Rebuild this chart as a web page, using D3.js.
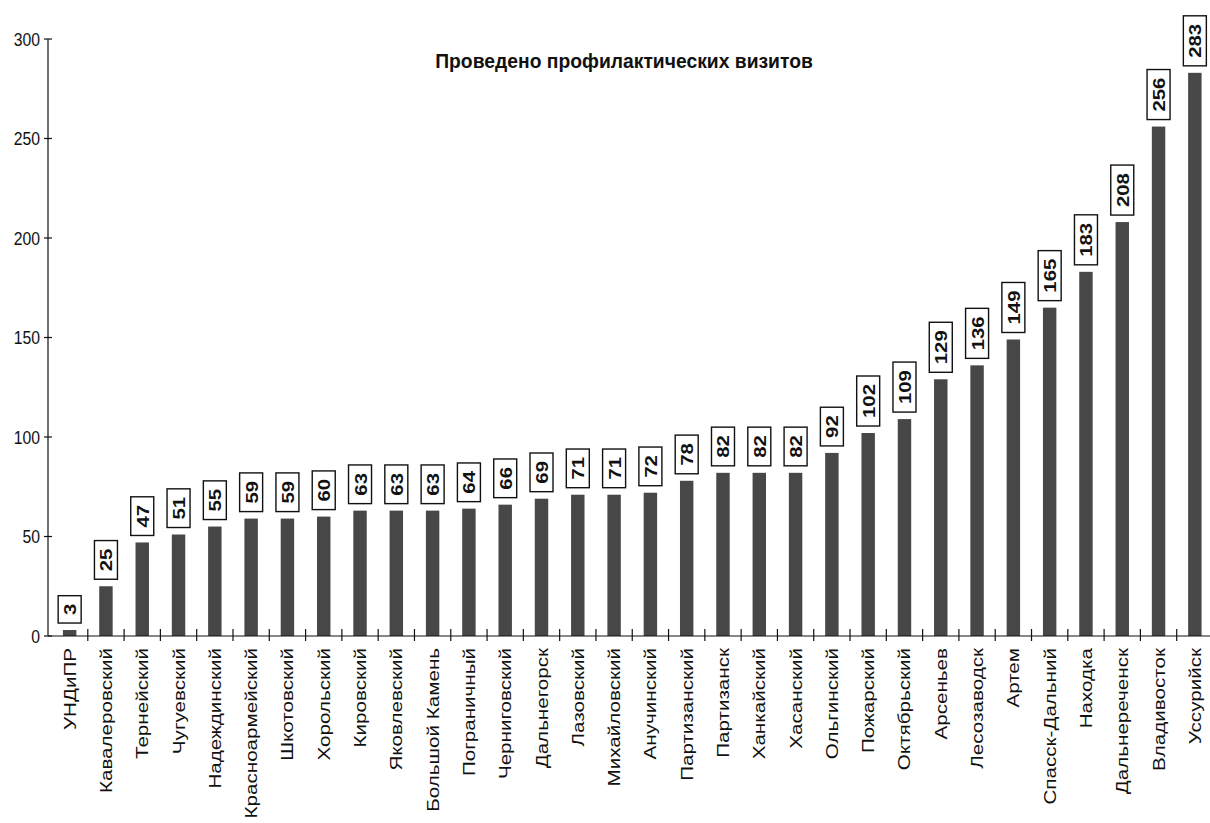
<!DOCTYPE html>
<html><head><meta charset="utf-8">
<script src="https://cdn.jsdelivr.net/npm/d3@7"></script>
<style>
html,body{margin:0;padding:0;background:#fff;}
svg{display:block;}
text{font-family:"Liberation Sans",Arial,sans-serif;fill:#111;}
</style></head>
<body>
<svg id="chart" width="1210" height="823"></svg>
<script>
const categories = ["УНДиПР","Кавалеровский","Тернейский","Чугуевский","Надеждинский","Красноармейский","Шкотовский","Хорольский","Кировский","Яковлевский","Большой Камень","Пограничный","Черниговский","Дальнегорск","Лазовский","Михайловский","Анучинский","Партизанский","Партизанск","Ханкайский","Хасанский","Ольгинский","Пожарский","Октябрьский","Арсеньев","Лесозаводск","Артем","Спасск-Дальний","Находка","Дальнереченск","Владивосток","Уссурийск"];
const values = [3,25,47,51,55,59,59,60,63,63,63,64,66,69,71,71,72,78,82,82,82,92,102,109,129,136,149,165,183,208,256,283];
const yTicks = [0,50,100,150,200,250,300];
const title = "Проведено профилактических визитов";

const svg = d3.select("#chart");
const axisX = 48, x0 = 51.5, x1 = 1213, yBase = 636, yTop = 39;

const x = d3.scaleBand().domain(categories).range([x0, x1]).padding(0);
const y = d3.scaleLinear().domain([0, 300]).range([yBase, yTop]);
const bw = x.bandwidth() * 0.37;

// bars
svg.append("g").selectAll("rect").data(values).join("rect")
  .attr("x", (d,i) => x(categories[i]) + x.bandwidth()/2 - bw/2)
  .attr("y", d => y(d))
  .attr("width", bw)
  .attr("height", d => y(0) - y(d))
  .attr("fill", "#474747");

// y axis
const ya = svg.append("g");
ya.append("line").attr("x1", axisX).attr("x2", axisX).attr("y1", y(300)).attr("y2", y(0))
  .attr("stroke", "#111").attr("stroke-width", 1.2);
yTicks.forEach(t => {
  ya.append("line").attr("x1", axisX - 4).attr("x2", axisX + 4).attr("y1", y(t)).attr("y2", y(t))
    .attr("stroke", "#111").attr("stroke-width", 1.2);
  ya.append("text").attr("transform", `translate(${axisX - 8},${y(t) + 6.5}) scale(0.9,1)`)
    .attr("text-anchor", "end").attr("font-size", 17.5).text(t);
});

// x axis
const xa = svg.append("g");
xa.append("line").attr("x1", axisX).attr("x2", 1210).attr("y1", yBase).attr("y2", yBase)
  .attr("stroke", "#111").attr("stroke-width", 1.2);
categories.slice(1).forEach(c => {
  xa.append("line").attr("x1", x(c)).attr("x2", x(c)).attr("y1", yBase - 7).attr("y2", yBase + 5)
    .attr("stroke", "#111").attr("stroke-width", 1.2);
});
categories.forEach(c => {
  xa.append("text")
    .attr("transform", `translate(${x(c) + x.bandwidth()/2 + 6},${yBase + 12}) scale(1,1.25) rotate(-90)`)
    .attr("text-anchor", "end").attr("font-size", 16.5).text(c);
});

// value labels with boxes
const lg = svg.append("g");
values.forEach((v, i) => {
  const cx = x(categories[i]) + x.bandwidth()/2;
  const g = lg.append("g");
  const bottom = y(v) - 7;
  const t = g.append("text")
    .attr("transform", `translate(${cx + 6.5},${bottom - 8}) scale(1,1.2) rotate(-90)`)
    .attr("font-size", 17).attr("font-weight", "bold").text(v);
  const len = t.node().getComputedTextLength() * 1.2;
  g.insert("rect", "text")
    .attr("x", cx - 11.5).attr("y", bottom - len - 16)
    .attr("width", 23).attr("height", len + 16)
    .attr("fill", "#fff").attr("stroke", "#111").attr("stroke-width", 1.4);
});

// title
svg.append("text").attr("transform", "translate(624,68) scale(0.92,1)")
  .attr("text-anchor", "middle").attr("font-size", 21).attr("font-weight", "bold").text(title);
</script>
</body></html>
